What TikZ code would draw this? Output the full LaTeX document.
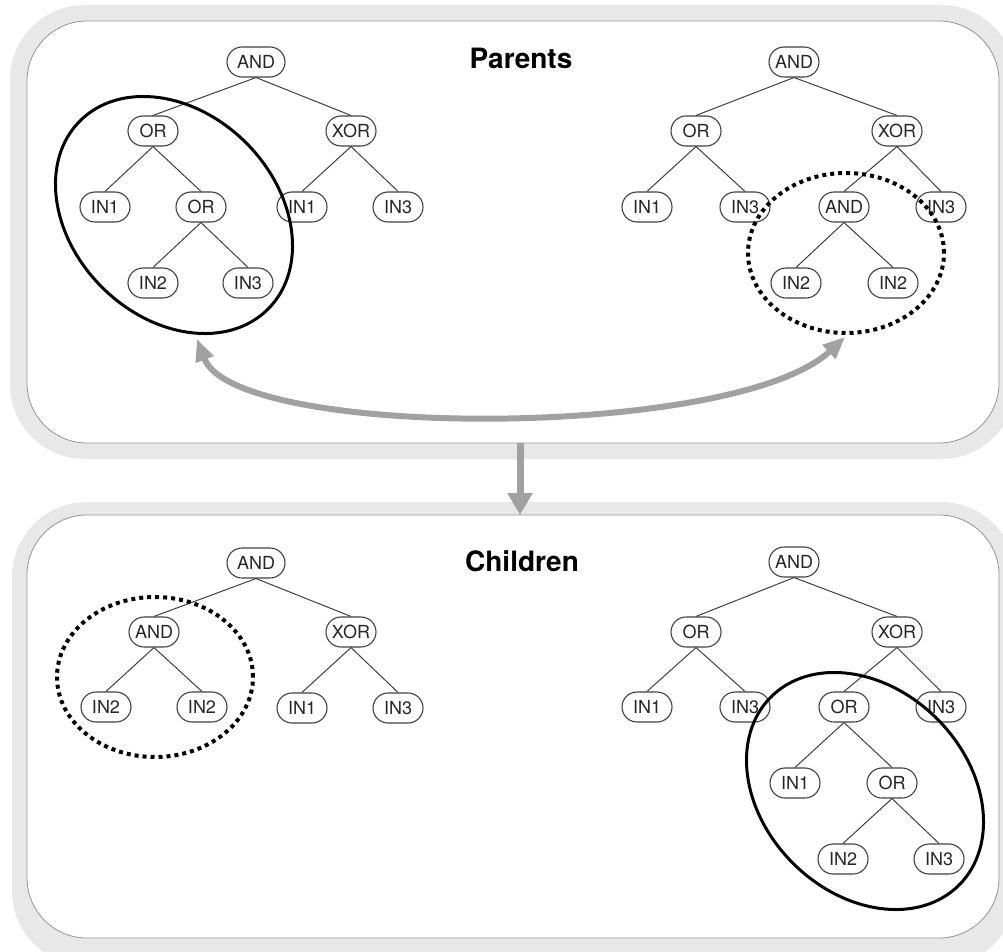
\documentclass[tikz,border=0pt]{standalone}
\usepackage{fontspec}
\setmainfont{TeX Gyre Heros}
\usetikzlibrary{shapes.misc, arrows.meta}
\tikzset{
  gate/.style={
    rounded rectangle, draw=black!75, fill=white, line width=1.1pt,
    minimum width=58pt, minimum height=30pt, inner xsep=4pt, inner ysep=2pt,
    font=\fontsize{18}{18}\selectfont, text=black!85,
  },
  branch/.style={
    draw=black!75, line width=1pt,
  },
  band/.style={
    fill=black!9, rounded corners=75pt,
  },
  pane/.style={
    rectangle, draw=black!42, fill=white, line width=0.8pt,
    rounded corners=60pt, inner sep=0pt, outer sep=0pt,
  },
  title/.style={
    font=\fontsize{28}{28}\selectfont\bfseries,
  },
  cut/.style={
    draw=black, line width=3pt,
  },
  cut dotted/.style={
    draw=black, line width=4pt, dash pattern=on 4pt off 4pt,
  },
  swaparrow/.style={
    {Triangle[length=22pt,width=18pt]}-{Triangle[length=22pt,width=18pt]},
    draw=black!37, line width=6pt,
  },
  flow/.style={
    -{Triangle[length=22pt,width=24pt]}, draw=black!37, line width=7pt,
  }
}

\begin{document}
\begin{tikzpicture}[x=1pt, y=-1pt]
  \useasboundingbox (0,0) rectangle (1003,952);

  % Panels
  \fill[band] (10,5) rectangle (1016,459);
  \fill[band] (12,502) rectangle (1016,966);
  \node[pane, minimum width=972pt, minimum height=422pt] (parents) at (513,232) {};
  \node[pane, minimum width=972pt, minimum height=423pt] (children) at (513,726.5) {};

  \node[title] (ptitle) at (521,58) {Parents};
  \node[title] (ctitle) at (522,561) {Children};

  % First parent
  \node[gate, minimum width=66pt] (pl0) at (256,62) {AND};
  \node[gate] (pl1) at (153,131) {OR};
  \node[gate] (pl2) at (351,131) {XOR};
  \node[gate] (pl3) at (105,207) {IN1};
  \node[gate] (pl4) at (201,207) {OR};
  \node[gate] (pl5) at (302,207) {IN1};
  \node[gate] (pl6) at (398,207) {IN3};
  \node[gate] (pl7) at (153,283) {IN2};
  \node[gate] (pl8) at (248,283) {IN3};

  \draw[branch] (pl0.south) -- (pl1.north);
  \draw[branch] (pl0.south) -- (pl2.north);
  \draw[branch] (pl1.south) -- (pl3.north);
  \draw[branch] (pl1.south) -- (pl4.north);
  \draw[branch] (pl2.south) -- (pl5.north);
  \draw[branch] (pl2.south) -- (pl6.north);
  \draw[branch] (pl4.south) -- (pl7.north);
  \draw[branch] (pl4.south) -- (pl8.north);

  % Second parent
  \node[gate] (pr0) at (794,62) {AND};
  \node[gate] (pr1) at (696,131) {OR};
  \node[gate] (pr2) at (897,131) {XOR};
  \node[gate] (pr3) at (647,207) {IN1};
  \node[gate] (pr4) at (745,207) {IN3};
  \node[gate] (pr5) at (844,207) {AND};
  \node[gate] (pr6) at (941,207) {IN3};
  \node[gate] (pr7) at (796,283) {IN2};
  \node[gate] (pr8) at (893,283) {IN2};

  \draw[branch] (pr0.south) -- (pr1.north);
  \draw[branch] (pr0.south) -- (pr2.north);
  \draw[branch] (pr1.south) -- (pr3.north);
  \draw[branch] (pr1.south) -- (pr4.north);
  \draw[branch] (pr2.south) -- (pr5.north);
  \draw[branch] (pr2.south) -- (pr6.north);
  \draw[branch] (pr5.south) -- (pr7.north);
  \draw[branch] (pr5.south) -- (pr8.north);

  % First child
  \node[gate, minimum width=66pt] (cl0) at (256,563) {AND};
  \node[gate] (cl1) at (154,632) {AND};
  \node[gate] (cl2) at (351,632) {XOR};
  \node[gate] (cl3) at (106,707) {IN2};
  \node[gate] (cl4) at (202,707) {IN2};
  \node[gate] (cl5) at (302,708) {IN1};
  \node[gate] (cl6) at (398,708) {IN3};

  \draw[branch] (cl0.south) -- (cl1.north);
  \draw[branch] (cl0.south) -- (cl2.north);
  \draw[branch] (cl1.south) -- (cl3.north);
  \draw[branch] (cl1.south) -- (cl4.north);
  \draw[branch] (cl2.south) -- (cl5.north);
  \draw[branch] (cl2.south) -- (cl6.north);

  % Second child
  \node[gate] (cr0) at (794,562) {AND};
  \node[gate] (cr1) at (696,632) {OR};
  \node[gate] (cr2) at (897,632) {XOR};
  \node[gate] (cr3) at (647,707) {IN1};
  \node[gate] (cr4) at (745,707) {IN3};
  \node[gate] (cr5) at (844,707) {OR};
  \node[gate] (cr6) at (941,707) {IN3};
  \node[gate] (cr7) at (795,783) {IN1};
  \node[gate] (cr8) at (892,783) {OR};
  \node[gate] (cr9) at (843,859) {IN2};
  \node[gate] (cr10) at (939,859) {IN3};

  \draw[branch] (cr0.south) -- (cr1.north);
  \draw[branch] (cr0.south) -- (cr2.north);
  \draw[branch] (cr1.south) -- (cr3.north);
  \draw[branch] (cr1.south) -- (cr4.north);
  \draw[branch] (cr2.south) -- (cr5.north);
  \draw[branch] (cr2.south) -- (cr6.north);
  \draw[branch] (cr5.south) -- (cr7.north);
  \draw[branch] (cr5.south) -- (cr8.north);
  \draw[branch] (cr8.south) -- (cr9.north);
  \draw[branch] (cr8.south) -- (cr10.north);

  % Crossover subtrees
  \draw[cut, rotate around={-45:(174,215)}] (174,215) ellipse [x radius=133pt, y radius=102pt];
  \draw[cut dotted] (846,253) ellipse [x radius=98pt, y radius=80pt];
  \draw[cut dotted] (155,677) ellipse [x radius=98pt, y radius=80pt];
  \draw[cut, rotate around={-45:(865,791)}] (865,791) ellipse [x radius=133pt, y radius=102pt];

  % Swap and result arrows
  \coordinate (tipA) at (197,339);
  \coordinate (tipB) at (845,337);
  \draw[swaparrow] (tipA) .. controls (235,440) and (735,440) .. (tipB);
  \draw[flow] ([xshift=7pt]parents.south) -- ([xshift=7pt]children.north);

\end{tikzpicture}
\end{document}
